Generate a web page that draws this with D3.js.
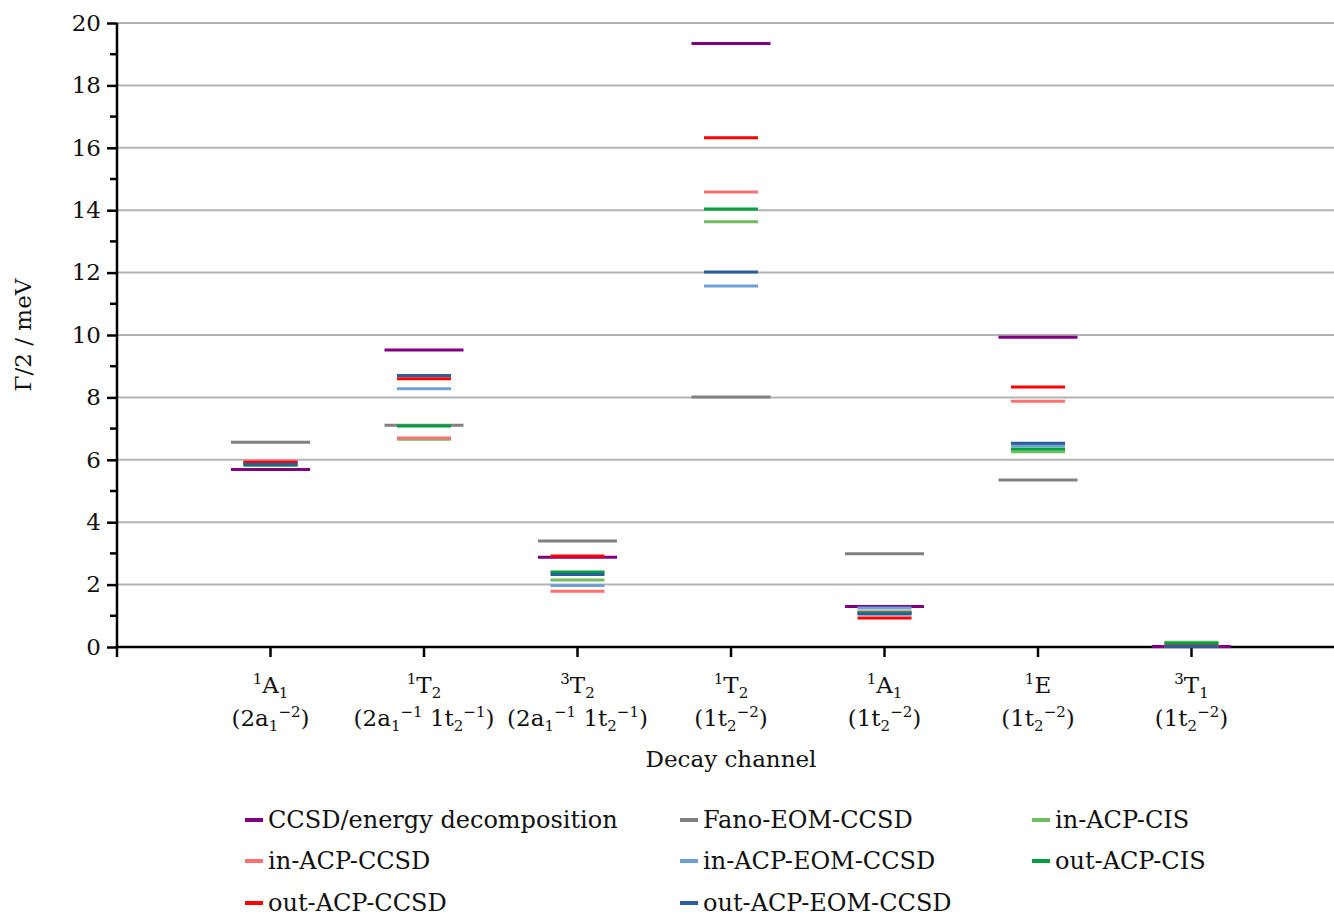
<!DOCTYPE html>
<html>
<head>
<meta charset="utf-8">
<script src="https://cdn.jsdelivr.net/npm/d3@7"></script>
<style>
  body { margin: 0; background: #fff; }
  text { font-family: "DejaVu Serif", "Liberation Serif", serif; fill: #111; }
</style>
</head>
<body>
<svg width="1334" height="918"></svg>
<script>
// decay channels: two label lines each (^{..} superscript, _{..} subscript)
var channelTop = ["^{1}A_{1}", "^{1}T_{2}", "^{3}T_{2}", "^{1}T_{2}", "^{1}A_{1}", "^{1}E", "^{3}T_{1}"];
var channelBottom = ["(2a_{1}^{−2})", "(2a_{1}^{−1} 1t_{2}^{−1})", "(2a_{1}^{−1} 1t_{2}^{−1})",
                     "(1t_{2}^{−2})", "(1t_{2}^{−2})", "(1t_{2}^{−2})", "(1t_{2}^{−2})"];

var yTicks = [0, 2, 4, 6, 8, 10, 12, 14, 16, 18, 20];

// Γ/2 in meV, one value per decay channel
var ccsdDecomp   = [5.69, 9.52, 2.88, 19.34, 1.30, 9.93, 0.02];
var fanoEom      = [6.56, 7.11, 3.40, 8.01, 2.99, 5.35, 0.01];
var inAcpCis     = [5.82, 6.66, 2.15, 13.63, 1.09, 6.26, 0.15];
var inAcpCcsd    = [5.95, 6.70, 1.79, 14.58, 1.13, 7.88, 0.04];
var inAcpEom     = [5.89, 8.28, 1.97, 11.57, 1.25, 6.45, 0.03];
var outAcpCis    = [5.84, 7.08, 2.40, 14.04, 1.10, 6.35, 0.12];
var outAcpCcsd   = [5.92, 8.60, 2.92, 16.32, 0.93, 8.33, 0.03];
var outAcpEom    = [5.86, 8.70, 2.32, 12.02, 1.06, 6.53, 0.02];

var series = [
  {name: "CCSD/energy decomposition", values: ccsdDecomp, color: "#800080", wide: true, z: 1},
  {name: "Fano-EOM-CCSD", values: fanoEom, color: "#808080", wide: true, z: 0},
  {name: "in-ACP-CIS", values: inAcpCis, color: "#70bc60", wide: false, z: 2},
  {name: "in-ACP-CCSD", values: inAcpCcsd, color: "#ff7070", wide: false, z: 3},
  {name: "in-ACP-EOM-CCSD", values: inAcpEom, color: "#70a0d8", wide: false, z: 4},
  {name: "out-ACP-CIS", values: outAcpCis, color: "#00a040", wide: false, z: 5},
  {name: "out-ACP-CCSD", values: outAcpCcsd, color: "#ff0000", wide: false, z: 6},
  {name: "out-ACP-EOM-CCSD", values: outAcpEom, color: "#2a5d9c", wide: false, z: 7}
];

var svg = d3.select("svg"),
    plotLeft = 117, plotTop = 23, plotBottom = 647, plotRight = 1334;

var x = d3.scaleLinear().domain([0, 8]).range([plotLeft, plotLeft + 8 * 153.5]);
var y = d3.scaleLinear().domain([0, 20]).range([plotBottom, plotTop]);

// grid
svg.append("g").selectAll("line")
  .data(yTicks.filter(function(d) { return d > 0; }))
  .enter().append("line")
    .attr("x1", plotLeft).attr("x2", plotRight)
    .attr("y1", function(d) { return y(d); }).attr("y2", function(d) { return y(d); })
    .attr("stroke", "#b3b3b3").attr("stroke-width", 2);

// y axis
var yAxis = svg.append("g")
    .attr("transform", "translate(" + plotLeft + ",0)")
    .call(d3.axisLeft(y).tickValues(yTicks).tickSize(10).tickPadding(6));
yAxis.select(".domain").remove();
yAxis.selectAll(".tick line").attr("stroke", "#000").attr("stroke-width", 2.5);
yAxis.selectAll(".tick text").style("font-size", "23px").attr("fill", "#111")
    .style("font-family", '"DejaVu Serif", serif');

svg.append("g").selectAll("line")
  .data(d3.range(1, 20, 2))
  .enter().append("line")
    .attr("x1", plotLeft - 7).attr("x2", plotLeft)
    .attr("y1", function(d) { return y(d); }).attr("y2", function(d) { return y(d); })
    .attr("stroke", "#000").attr("stroke-width", 2.5);

svg.append("line")
    .attr("x1", plotLeft).attr("x2", plotLeft)
    .attr("y1", plotTop).attr("y2", plotBottom + 10)
    .attr("stroke", "#000").attr("stroke-width", 2.5);

// x axis
svg.append("line")
    .attr("x1", plotLeft).attr("x2", plotRight)
    .attr("y1", plotBottom).attr("y2", plotBottom)
    .attr("stroke", "#000").attr("stroke-width", 2.5);

svg.append("g").selectAll("line")
  .data(d3.range(1, 8))
  .enter().append("line")
    .attr("x1", function(d) { return x(d); }).attr("x2", function(d) { return x(d); })
    .attr("y1", plotBottom).attr("y2", plotBottom + 10)
    .attr("stroke", "#000").attr("stroke-width", 2.5);

// rich label: ^{..} superscript, _{..} subscript
function richText(sel, str) {
  var parts = str.match(/\^\{[^}]*\}|_\{[^}]*\}|[^\^_]+/g), cur = 0;
  parts.forEach(function(p) {
    var shift = 0, size = 23, txt = p;
    if (p[0] === "^") { shift = -9; size = 15; txt = p.slice(2, -1); }
    else if (p[0] === "_") { shift = 5; size = 15; txt = p.slice(2, -1); }
    sel.append("tspan").attr("dy", shift - cur).style("font-size", size + "px").text(txt);
    cur = shift;
  });
}

svg.append("g").selectAll("text")
  .data(channelTop)
  .enter().append("text")
    .attr("x", function(d, i) { return x(i + 1); })
    .attr("y", 693)
    .attr("text-anchor", "middle")
    .each(function(d) { richText(d3.select(this), d); });

svg.append("g").selectAll("text")
  .data(channelBottom)
  .enter().append("text")
    .attr("x", function(d, i) { return x(i + 1); })
    .attr("y", 726)
    .attr("text-anchor", "middle")
    .each(function(d) { richText(d3.select(this), d); });

svg.append("text")
    .attr("x", x(4)).attr("y", 767)
    .attr("text-anchor", "middle")
    .style("font-size", "23px")
    .text("Decay channel");

svg.append("text")
    .attr("transform", "translate(31," + ((plotTop + plotBottom) / 2) + ") rotate(-90)")
    .attr("text-anchor", "middle")
    .style("font-size", "23px")
    .text("Γ/2 / meV");

// marks (wide reference marks underneath)
series.slice().sort(function(a, b) { return a.z - b.z; }).forEach(function(s) {
  var half = s.wide ? 39.5 : 27;
  svg.append("g").selectAll("line")
    .data(s.values)
    .enter().append("line")
      .attr("x1", function(d, i) { return x(i + 1) - half; })
      .attr("x2", function(d, i) { return x(i + 1) + half; })
      .attr("y1", function(d) { return y(d); })
      .attr("y2", function(d) { return y(d); })
      .attr("stroke", s.color)
      .attr("stroke-width", 3);
});

// legend
var colX = [245, 680, 1032], rowY = [820, 861, 903];
var legend = svg.append("g").selectAll("g")
  .data(series)
  .enter().append("g")
    .attr("transform", function(d, i) { return "translate(" + colX[i % 3] + "," + rowY[Math.floor(i / 3)] + ")"; });

legend.append("line")
    .attr("x1", 0).attr("x2", 18)
    .attr("stroke", function(d) { return d.color; })
    .attr("stroke-width", 4);

legend.append("text")
    .attr("x", 23).attr("dy", "0.33em")
    .style("font-size", "24px")
    .text(function(d) { return d.name; });
</script>
</body>
</html>
